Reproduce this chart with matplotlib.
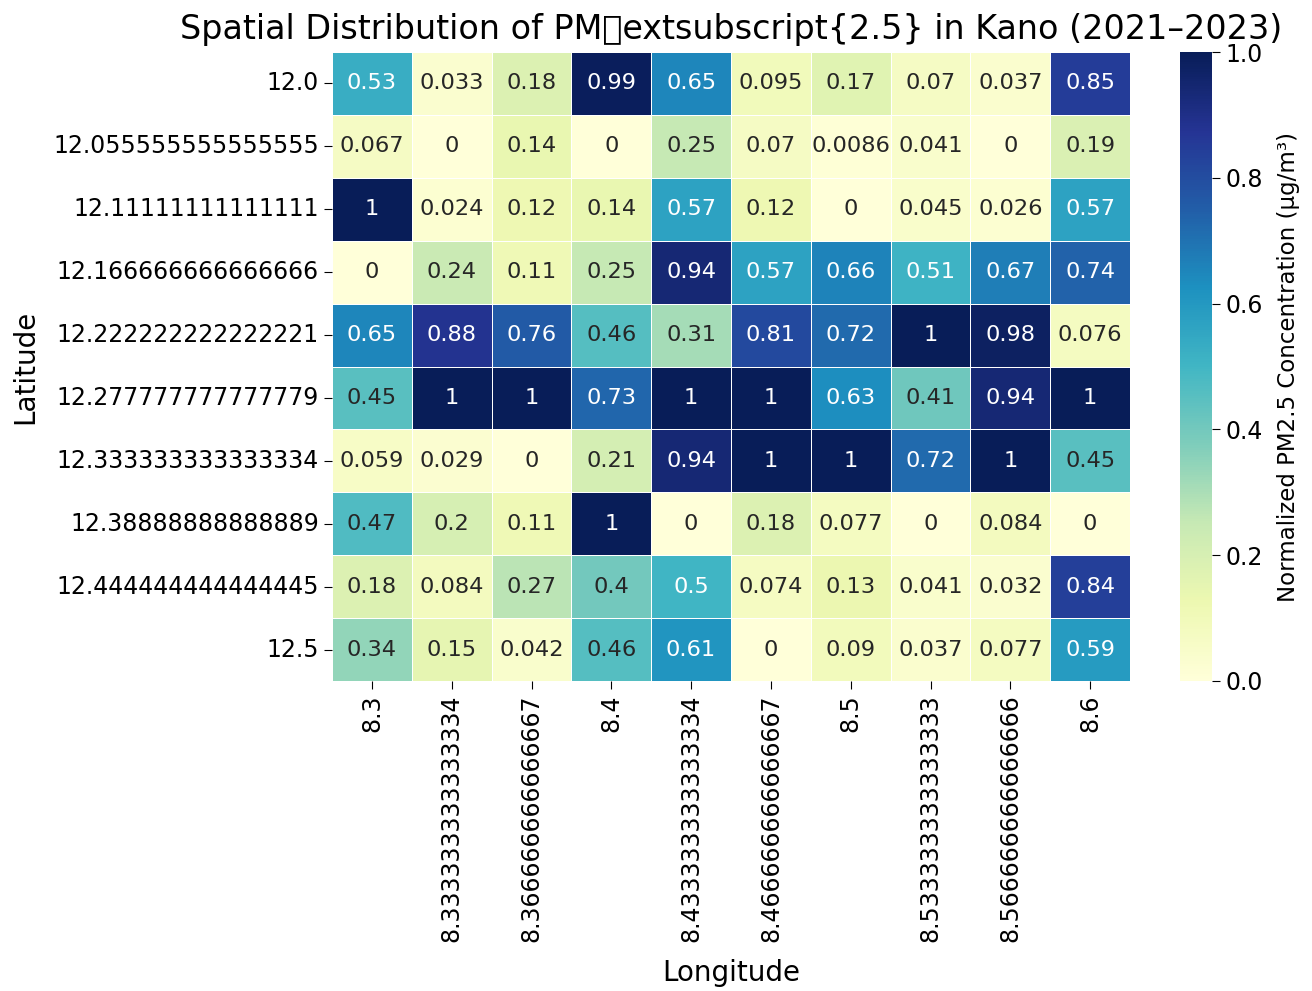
import numpy as np
import matplotlib
matplotlib.use("Agg")
import matplotlib.pyplot as plt
import seaborn as sns

lat_labels = ["12.0", "12.055555555555555", "12.11111111111111", "12.166666666666666",
              "12.222222222222221", "12.277777777777779", "12.333333333333334",
              "12.38888888888889", "12.444444444444445", "12.5"]
lon_labels = ["8.3", "8.333333333333334", "8.366666666666667", "8.4", "8.433333333333334",
              "8.466666666666667", "8.5", "8.533333333333333", "8.566666666666666", "8.6"]

row_0 = [0.53, 0.033, 0.18, 0.99, 0.65, 0.095, 0.17, 0.07, 0.037, 0.85]
row_1 = [0.067, 0, 0.14, 0, 0.25, 0.07, 0.0086, 0.041, 0, 0.19]
row_2 = [1, 0.024, 0.12, 0.14, 0.57, 0.12, 0, 0.045, 0.026, 0.57]
row_3 = [0, 0.24, 0.11, 0.25, 0.94, 0.57, 0.66, 0.51, 0.67, 0.74]
row_4 = [0.65, 0.88, 0.76, 0.46, 0.31, 0.81, 0.72, 1, 0.98, 0.076]
row_5 = [0.45, 1, 1, 0.73, 1, 1, 0.63, 0.41, 0.94, 1]
row_6 = [0.059, 0.029, 0, 0.21, 0.94, 1, 1, 0.72, 1, 0.45]
row_7 = [0.47, 0.2, 0.11, 1, 0, 0.18, 0.077, 0, 0.084, 0]
row_8 = [0.18, 0.084, 0.27, 0.4, 0.5, 0.074, 0.13, 0.041, 0.032, 0.84]
row_9 = [0.34, 0.15, 0.042, 0.46, 0.61, 0, 0.09, 0.037, 0.077, 0.59]

data = np.array([row_0, row_1, row_2, row_3, row_4, row_5, row_6, row_7, row_8, row_9])

fig = plt.figure(figsize=(13.12, 9.91), dpi=100)
ax = fig.add_axes([332/1312, 1 - 681/991, (1130-332)/1312, (681-52)/991])
cax = fig.add_axes([1180/1312, 1 - 681/991, (1212-1180)/1312, (681-52)/991])

sns.heatmap(data, ax=ax, cbar_ax=cax, cmap="YlGnBu", annot=True, linewidths=0.5,
            linecolor="white", xticklabels=lon_labels, yticklabels=lat_labels,
            annot_kws={"fontsize": 16.2},
            cbar_kws={"label": "Normalized PM2.5 Concentration (µg/m³)"})

ax.set_title("Spatial Distribution of PM\textsubscript{2.5} in Kano (2021–2023)", fontsize=24, pad=9)
ax.set_xlabel("Longitude", fontsize=20, labelpad=12)
ax.set_ylabel("Latitude", fontsize=20, labelpad=10)
ax.tick_params(axis="both", labelsize=17, length=6)
plt.setp(ax.get_xticklabels(), rotation=90)
plt.setp(ax.get_yticklabels(), rotation=0)
cax.tick_params(labelsize=17, length=6)
cax.yaxis.label.set_size(16.5)
cax.yaxis.labelpad = 10

fig.savefig("out.png", dpi=100)
